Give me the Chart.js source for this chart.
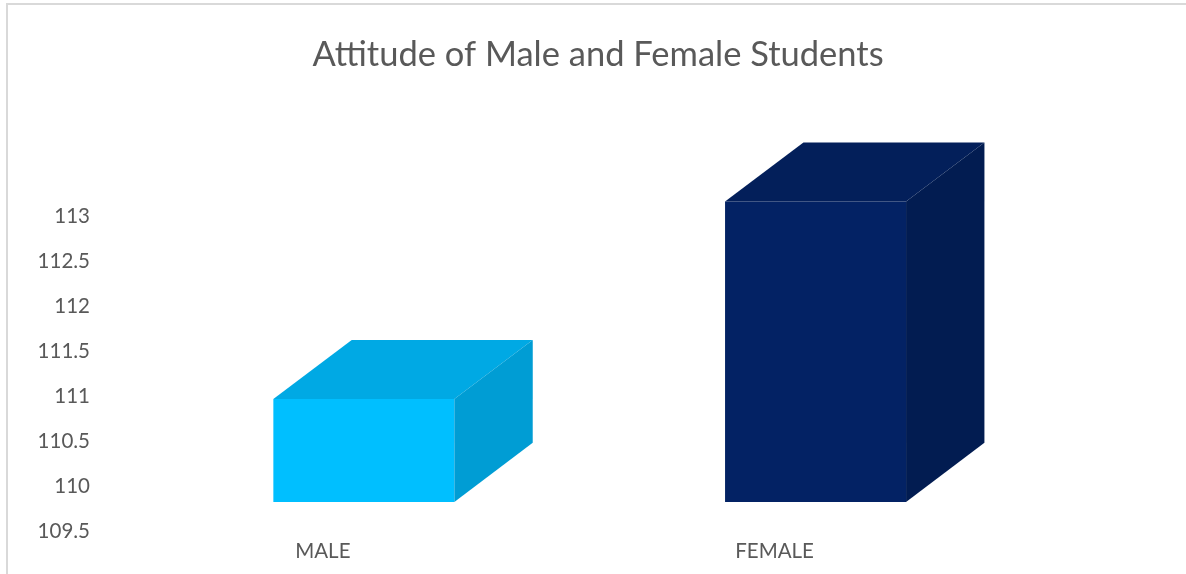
<!DOCTYPE html>
<html>
<head>
<meta charset="utf-8">
<script src="https://cdn.jsdelivr.net/npm/chart.js@4.4.1/dist/chart.umd.min.js"></script>
<style>
  html, body { margin: 0; padding: 0; background: #ffffff; }
  #wrap { position: relative; width: 1186px; height: 574px; overflow: hidden; }
  canvas { display: block; }
</style>
</head>
<body>
<div id="wrap"><canvas id="c" width="1186" height="574"></canvas></div>
<script>
// ---- data ----
const categories = ['MALE', 'FEMALE'];
const barBase = [109.83, 109.83];
const attitudeValues = [110.97, 113.16];
const tickMin = 109.5;
const tickMaxLabel = 113;
const tickStep = 0.5;

const frontColors = ['#00BFFF', '#032264'];
const topColors = ['#00A9E4', '#031F5A'];
const sideColors = ['#009DD4', '#021C51'];

const textColor = '#595959';

const borderPlugin = {
  id: 'frameBorder',
  beforeDraw(chart) {
    const ctx = chart.ctx;
    ctx.save();
    ctx.fillStyle = '#ffffff';
    ctx.fillRect(0, 0, chart.width, chart.height);
    ctx.strokeStyle = '#d9d9d9';
    ctx.lineWidth = 2;
    ctx.strokeRect(7, 4, chart.width + 20, chart.height + 20);
    ctx.restore();
  }
};

const box3dPlugin = {
  id: 'box3d',
  afterDatasetsDraw(chart) {
    const ctx = chart.ctx;
    const meta = chart.getDatasetMeta(0);
    meta.data.forEach((bar, i) => {
      const p = bar.getProps(['x', 'y', 'base', 'width'], true);
      const left = p.x - p.width / 2;
      const right = p.x + p.width / 2;
      const dx = p.width * 0.433;
      const dy = p.width * 0.327;
      ctx.save();
      ctx.beginPath();
      ctx.moveTo(left, p.y);
      ctx.lineTo(left + dx, p.y - dy);
      ctx.lineTo(right + dx, p.y - dy);
      ctx.lineTo(right, p.y);
      ctx.closePath();
      ctx.fillStyle = topColors[i];
      ctx.fill();
      ctx.beginPath();
      ctx.moveTo(right, p.y);
      ctx.lineTo(right + dx, p.y - dy);
      ctx.lineTo(right + dx, p.base - dy);
      ctx.lineTo(right, p.base);
      ctx.closePath();
      ctx.fillStyle = sideColors[i];
      ctx.fill();
      ctx.restore();
    });
  }
};

Chart.defaults.font.family = 'Lato, "Open Sans", sans-serif';

new Chart(document.getElementById('c'), {
  type: 'bar',
  data: {
    labels: categories,
    datasets: [{
      data: attitudeValues.map((v, i) => [barBase[i], v]),
      backgroundColor: frontColors,
      borderWidth: 0,
      categoryPercentage: 1,
      barPercentage: 0.4007,
      yAxisID: 'y'
    }]
  },
  options: {
    responsive: false,
    animation: false,
    devicePixelRatio: 1,
    layout: { padding: { left: 10, right: 0, top: 0, bottom: 0 } },
    plugins: {
      legend: { display: false },
      tooltip: { enabled: false },
      title: {
        display: true,
        text: 'Attitude of Male and Female Students',
        color: textColor,
        font: { size: 34.5, weight: 'normal', lineHeight: 1.2 },
        padding: { top: 34, bottom: 50.4 }
      }
    },
    scales: {
      x: {
        grid: { display: false, drawTicks: false },
        border: { display: false },
        ticks: {
          color: textColor,
          font: { size: 20.5 },
          padding: 7.7,
          labelOffset: -41,
          maxRotation: 0
        },
        afterFit(scale) { scale.height = 42.3; }
      },
      y: {
        min: tickMin,
        max: 114,
        grid: { display: false, drawTicks: false },
        border: { display: false },
        ticks: {
          stepSize: tickStep,
          color: textColor,
          font: { size: 20.5 },
          padding: 48,
          callback: (v) => (v <= tickMaxLabel ? String(v) : '')
        },
        afterFit(scale) {
          scale.width = 128;
          scale.paddingTop = 0;
          scale.paddingBottom = 0;
        }
      },
      yRight: {
        position: 'right',
        min: tickMin,
        max: 114,
        grid: { display: false, drawTicks: false },
        border: { display: false },
        ticks: { display: false },
        afterFit(scale) { scale.width = 144.6; }
      }
    }
  },
  plugins: [borderPlugin, box3dPlugin]
});
</script>
</body>
</html>
